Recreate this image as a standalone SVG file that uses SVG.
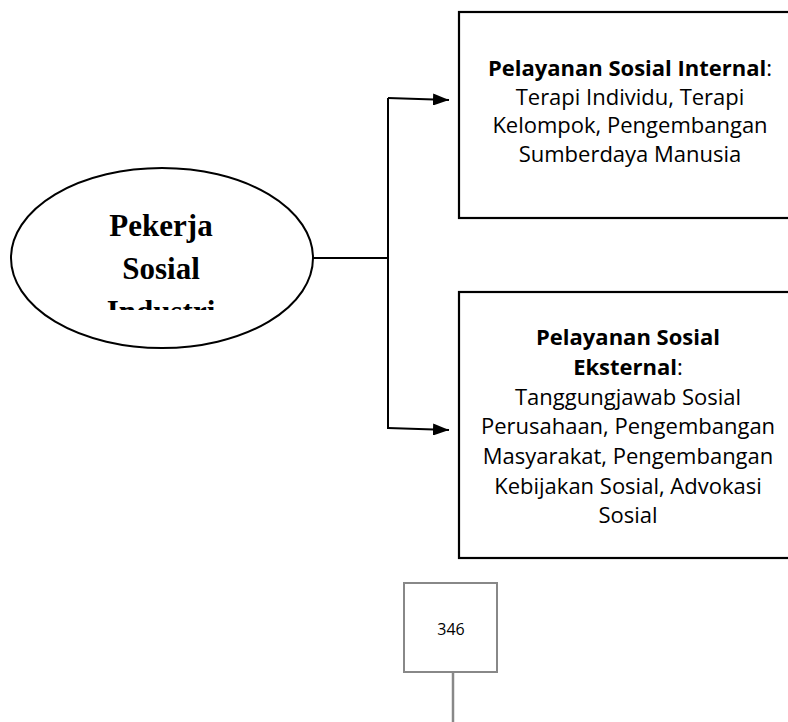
<svg xmlns="http://www.w3.org/2000/svg" width="788" height="722" viewBox="0 0 788 722">
<defs>
<style>
.box{fill:#fff;stroke:#000;stroke-width:2.2}
.t{font-family:"Open Sans","Noto Sans",sans-serif;font-size:22px;fill:#000;text-anchor:middle}
.b{font-weight:bold}
.e{font-family:"Liberation Serif","Times New Roman",serif;font-size:31px;font-weight:bold;text-anchor:middle;fill:#000}
.ln{stroke:#000;stroke-width:2;fill:none}
</style>
<marker id="ah" markerWidth="16" markerHeight="12" refX="16" refY="6" orient="auto" markerUnits="userSpaceOnUse">
<path d="M0,0 L16,6 L0,12 Z" fill="#000"/>
</marker>
<clipPath id="ec"><rect x="0" y="150" width="330" height="160"/></clipPath>
</defs>
<rect width="788" height="722" fill="#fff"/>
<g id="connectors">
<line class="ln" x1="313" y1="258" x2="388" y2="258"/>
<line class="ln" x1="388" y1="98" x2="388" y2="429"/>
<line class="ln" x1="388" y1="98" x2="449" y2="100" marker-end="url(#ah)"/>
<line class="ln" x1="388" y1="428" x2="449" y2="430" marker-end="url(#ah)"/>
<line x1="453" y1="672" x2="453" y2="722" stroke="#888" stroke-width="2.5"/>
</g>
<g id="pekerja">
<ellipse cx="162" cy="258" rx="151" ry="90" fill="#fff" stroke="#000" stroke-width="2"/>
<g clip-path="url(#ec)">
<text class="e" x="161" y="236">Pekerja</text>
<text class="e" x="161" y="279">Sosial</text>
<text class="e" x="161" y="322">Industri</text>
</g>
</g>
<g id="internal">
<rect class="box" x="459" y="12" width="345" height="206"/>
<text class="t" x="630" y="76"><tspan class="b">Pelayanan Sosial Internal</tspan>:</text>
<text class="t" x="630" y="104.5">Terapi Individu, Terapi</text>
<text class="t" x="630" y="133">Kelompok, Pengembangan</text>
<text class="t" x="630" y="161.5">Sumberdaya Manusia</text>
</g>
<g id="eksternal">
<rect class="box" x="459" y="292" width="345" height="266"/>
<text class="t b" x="628" y="345">Pelayanan Sosial</text>
<text class="t" x="628" y="375"><tspan class="b">Eksternal</tspan>:</text>
<text class="t" x="628" y="404.5">Tanggungjawab Sosial</text>
<text class="t" x="628" y="434">Perusahaan, Pengembangan</text>
<text class="t" x="628" y="464">Masyarakat, Pengembangan</text>
<text class="t" x="628" y="493.5">Kebijakan Sosial, Advokasi</text>
<text class="t" x="628" y="523">Sosial</text>
</g>
<g id="page">
<rect x="404" y="583" width="93" height="89" fill="#fff" stroke="#888" stroke-width="2"/>
<text x="451" y="635" font-family="'Open Sans','Noto Sans',sans-serif" font-size="16" text-anchor="middle" fill="#000">346</text>
</g>
</svg>
